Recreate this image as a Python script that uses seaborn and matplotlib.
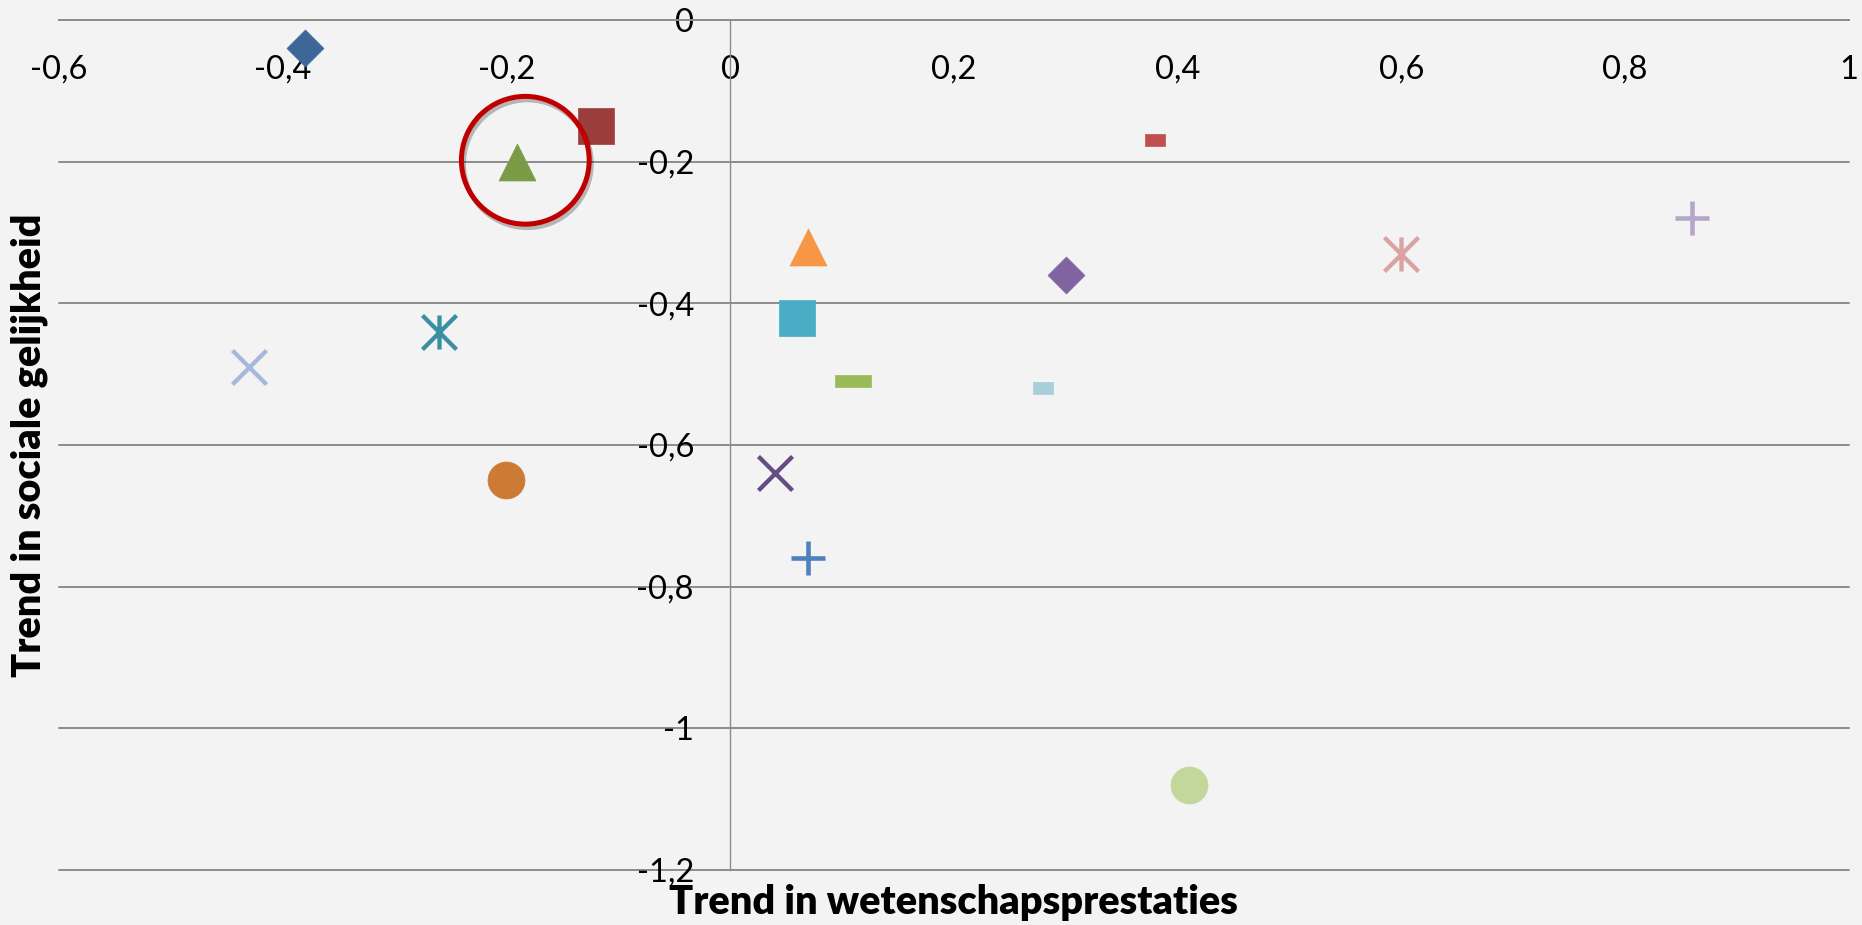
import numpy as np
import matplotlib
matplotlib.use("Agg")
import matplotlib.pyplot as plt
from matplotlib.path import Path
from matplotlib.ticker import FuncFormatter, FixedLocator
import matplotlib.patheffects as pe
import seaborn as sns

# ---------------- data ----------------
science_trend = [-0.38, -0.12, -0.19, 0.07, 0.38, 0.86, 0.60, 0.30, 0.06,
                 -0.26, -0.43, 0.11, 0.28, -0.20, 0.04, 0.07, 0.41]
equity_trend = [-0.04, -0.15, -0.20, -0.32, -0.17, -0.28, -0.33, -0.36, -0.42,
                -0.44, -0.49, -0.51, -0.52, -0.65, -0.64, -0.76, -1.08]
highlight_x = [-0.183]
highlight_y = [-0.198]
x_ticks = [-0.6, -0.4, -0.2, 0.0, 0.2, 0.4, 0.6, 0.8, 1.0]
y_ticks = [0.0, -0.2, -0.4, -0.6, -0.8, -1.0, -1.2]
x_title = "Trend in wetenschapsprestaties"
y_title = "Trend in sociale gelijkheid"

# ---------------- styles ----------------
star = Path([(-1, -1), (1, 1), (-1, 1), (1, -1), (0, -1), (0, 1)],
            [Path.MOVETO, Path.LINETO] * 3)
dash_long = [(-1, -0.32), (1, -0.32), (1, 0.32), (-1, 0.32), (-1, -0.32)]
dash_short = [(-1, -0.57), (1, -0.57), (1, 0.57), (-1, 0.57), (-1, -0.57)]

# (marker, colour, size in points, line width)
styles = [
    ("D", "#3D6799", 18.8, 0.5),
    ("s", "#9B3E3B", 26.0, 0.5),
    ("^", "#7A9A45", 26.6, 0.5),
    ("^", "#F79646", 26.6, 0.5),
    (dash_short, "#C0504D", 15.1, 0.5),
    ("+", "#B6A7CA", 23.8, 3.3),
    (star, "#D8A3A1", 24.5, 3.1),
    ("D", "#8064A2", 18.8, 0.5),
    ("s", "#4BACC6", 26.0, 0.5),
    (star, "#3A8FA3", 24.5, 3.1),
    ("x", "#A7B9D8", 24.5, 3.1),
    (dash_long, "#9BBB59", 26.6, 0.5),
    (dash_short, "#A8CDDB", 15.1, 0.5),
    ("o", "#CD7A35", 26.6, 0.5),
    ("x", "#654C85", 24.5, 3.1),
    ("+", "#4F81BD", 23.8, 3.3),
    ("o", "#C3D69B", 26.6, 0.5),
]

sns.set_style("white")
plt.rcParams["font.family"] = ["Lato", "DejaVu Sans"]

BG = "#F3F3F3"
GRID = "#8C8C8C"

fig = plt.figure(figsize=(18.62, 9.25), dpi=100, facecolor=BG)
ax = fig.add_axes([0.03153, 0.05946, 0.9615, 0.9189])
ax.set_facecolor(BG)

for xi, yi, (m, c, sz, lw) in zip(science_trend, equity_trend, styles):
    sns.scatterplot(x=[xi], y=[yi], marker=m, s=sz ** 2, color=c,
                    edgecolor=c, linewidth=lw, ax=ax, zorder=4, legend=False)

# highlight ring
sns.scatterplot(x=highlight_x, y=highlight_y, marker="o", s=92 ** 2,
                facecolor="none", edgecolor="#C00000", linewidth=3.6,
                ax=ax, zorder=5, legend=False,
                path_effects=[pe.SimpleLineShadow(offset=(1.5, -2.5),
                                                  shadow_color="k", alpha=0.25),
                              pe.Normal()])

ax.set_xlim(-0.6, 1.0)
ax.set_ylim(-1.2, 0.0)

fmt = FuncFormatter(lambda v, p: ("0" if abs(v) < 1e-9 else f"{v:g}".replace(".", ",")))
ax.xaxis.set_major_locator(FixedLocator(x_ticks))
ax.yaxis.set_major_locator(FixedLocator(y_ticks))
ax.xaxis.set_major_formatter(fmt)
ax.yaxis.set_major_formatter(fmt)

# axes crossing at zero
ax.spines["left"].set_position(("data", 0))
ax.spines["bottom"].set_position(("data", 0))
ax.spines["left"].set_color(GRID)
ax.spines["left"].set_linewidth(1.0)
ax.spines["bottom"].set_color(GRID)
ax.spines["bottom"].set_linewidth(1.4)
ax.spines["top"].set_visible(False)
ax.spines["right"].set_visible(False)

ax.yaxis.grid(True, color=GRID, linewidth=1.4, zorder=1)
ax.xaxis.grid(False)
ax.set_axisbelow(True)
for gl in ax.yaxis.get_gridlines():
    gl.set_clip_on(False)

ax.tick_params(axis="x", length=0, pad=25, labelsize=23.5, labelcolor="black")
ax.tick_params(axis="y", length=0, pad=26, labelsize=23.5, labelcolor="black")

ax.set_xlabel(x_title, fontsize=28.5, fontweight="heavy", color="black")
ax.set_ylabel(y_title, fontsize=28.5, fontweight="heavy", color="black")
ax.xaxis.set_label_coords(0.5, -0.016)
ax.xaxis.label.set_va("top")
ax.yaxis.set_label_coords(-0.006, 0.5)

fig.savefig("out.png", dpi=100, facecolor=BG)
